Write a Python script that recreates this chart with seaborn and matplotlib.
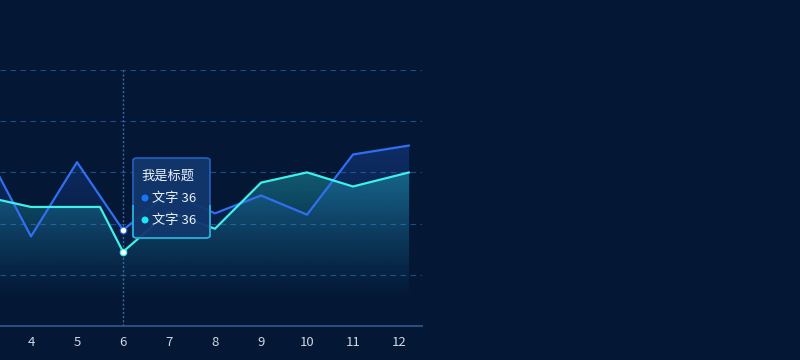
import numpy as np
import matplotlib
matplotlib.use("Agg")
import matplotlib.pyplot as plt
from matplotlib.patches import FancyBboxPatch, Ellipse, Rectangle
import seaborn as sns

# ---- data ----
categories = [4, 5, 6, 7, 8, 9, 10, 11, 12]
x_blue = [3, 4, 5, 6, 7, 8, 9, 10, 11, 12.22]
blue_vals = [69, 35, 64, 37.5, 52, 44, 51, 43.5, 67, 70.5]
x_cyan = [3, 4, 5.5, 6, 7, 8, 9, 10, 11, 12.22]
cyan_vals = [50.5, 46.5, 46.5, 29, 44.5, 38, 56, 60, 54.5, 60]
grid_vals = [20, 40, 60, 80, 100]
tooltip_title = "我是标题"
tooltip_items = ["文字 36", "文字 36"]
pointer_x = 6

BG = "#041734"
BLUE = "#2f6ff0"
CYAN = "#3ef0e6"

sns.set_theme(style="dark")
plt.rcParams["font.family"] = ["Noto Sans CJK SC", "DejaVu Sans"]

W, H = 800, 360
fig = plt.figure(figsize=(8, 3.6), dpi=100, facecolor=BG)
ax = fig.add_axes([0 / W, 34 / H, 422 / W, 256 / H])
ax.set_facecolor(BG)

XMIN, XMAX = 4 - 31 / 46, 12.5


def grad_fill(x, y, rgb, a_top, vtop, z):
    poly = ax.fill_between(x, y, 0, facecolor="none", edgecolor="none")
    path = poly.get_paths()[0]
    n = 256
    t = np.linspace(0, 1, n)
    img = np.zeros((n, 1, 4))
    img[..., 0] = rgb[0] / 255
    img[..., 1] = rgb[1] / 255
    img[..., 2] = rgb[2] / 255
    img[..., 3] = (a_top * (1 - t) ** 1.3)[:, None]
    im = ax.imshow(img, aspect="auto", extent=[XMIN, XMAX, 8, vtop],
                   origin="upper", zorder=z, interpolation="bilinear")
    im.set_clip_path(path, transform=ax.transData)


# grid
for g in grid_vals:
    ax.axhline(g, color="#1f4c88", lw=0.8, dashes=(5, 4), zorder=1)

grad_fill(x_blue, blue_vals, (40, 100, 225), 0.30, 72, 2)
grad_fill(x_cyan, cyan_vals, (40, 200, 215), 0.40, 62, 3)

sns.lineplot(x=x_blue, y=blue_vals, ax=ax, color=BLUE, lw=1.6, sort=False,
             zorder=5, estimator=None)
sns.lineplot(x=x_cyan, y=cyan_vals, ax=ax, color=CYAN, lw=1.6, sort=False,
             zorder=6, estimator=None)

# pointer
ax.axvline(pointer_x, color="#3a6aa5", lw=1.0, dashes=(1.5, 1.5), zorder=4)
bi = x_blue.index(pointer_x)
ci = x_cyan.index(pointer_x)
ax.scatter([pointer_x], [blue_vals[bi]], s=22, color="white", edgecolor=BLUE,
           linewidth=0.8, zorder=8)
ax.scatter([pointer_x], [cyan_vals[ci]], s=22, color="white", edgecolor=CYAN,
           linewidth=0.8, zorder=8)

ax.set_xlim(XMIN, XMAX)
ax.set_ylim(0, 100)
ax.set_xticks(categories)
ax.set_xticklabels([str(c) for c in categories])
ax.set_yticks([])
ax.tick_params(axis="x", colors="#d0d8e6", labelsize=9.5, length=0, pad=7)
for s in ["top", "left", "right"]:
    ax.spines[s].set_visible(False)
ax.spines["bottom"].set_visible(True)
ax.spines["bottom"].set_color("#2a4c7e")
ax.spines["bottom"].set_linewidth(1.5)
ax.grid(False)


# tooltip (figure pixel coords)
def fx(px):
    return px / W


def fy(py):
    return 1 - py / H


bx, by, bw, bh = fx(133), fy(238), fx(210) - fx(133), fy(158) - fy(238)
box = FancyBboxPatch((bx, by), bw, bh,
                     boxstyle="round,pad=0,rounding_size=0.006",
                     transform=fig.transFigure, facecolor="#12376c",
                     edgecolor="#2563c4", lw=1.2, zorder=20, alpha=0.95)
fig.patches.append(box)
# cyan lower part of the border (gradient-like edge)
box2 = FancyBboxPatch((bx, by), bw, bh,
                      boxstyle="round,pad=0,rounding_size=0.006",
                      transform=fig.transFigure, facecolor="none",
                      edgecolor="#22b6d8", lw=1.2, zorder=20.5)
fig.patches.append(box2)
clip = Rectangle((0, 0), 1, fy(205), transform=fig.transFigure)
box2.set_clip_path(clip)

fig.text(fx(141), fy(176), tooltip_title, color="#eef2fa", fontsize=9.5,
         va="center", ha="left", zorder=21)
for py, col, txt in [(198, "#1a74f5", tooltip_items[0]), (220, "#19e8f0", tooltip_items[1])]:
    fig.patches.append(Ellipse((fx(145), fy(py)), 7 / W, 7 / H, transform=fig.transFigure,
                               facecolor=col, edgecolor="none", zorder=21))
    fig.text(fx(152), fy(py), txt, color="#eef2fa", fontsize=9.5,
             va="center", ha="left", zorder=21)

fig.savefig("out.png", dpi=100, facecolor=BG)
